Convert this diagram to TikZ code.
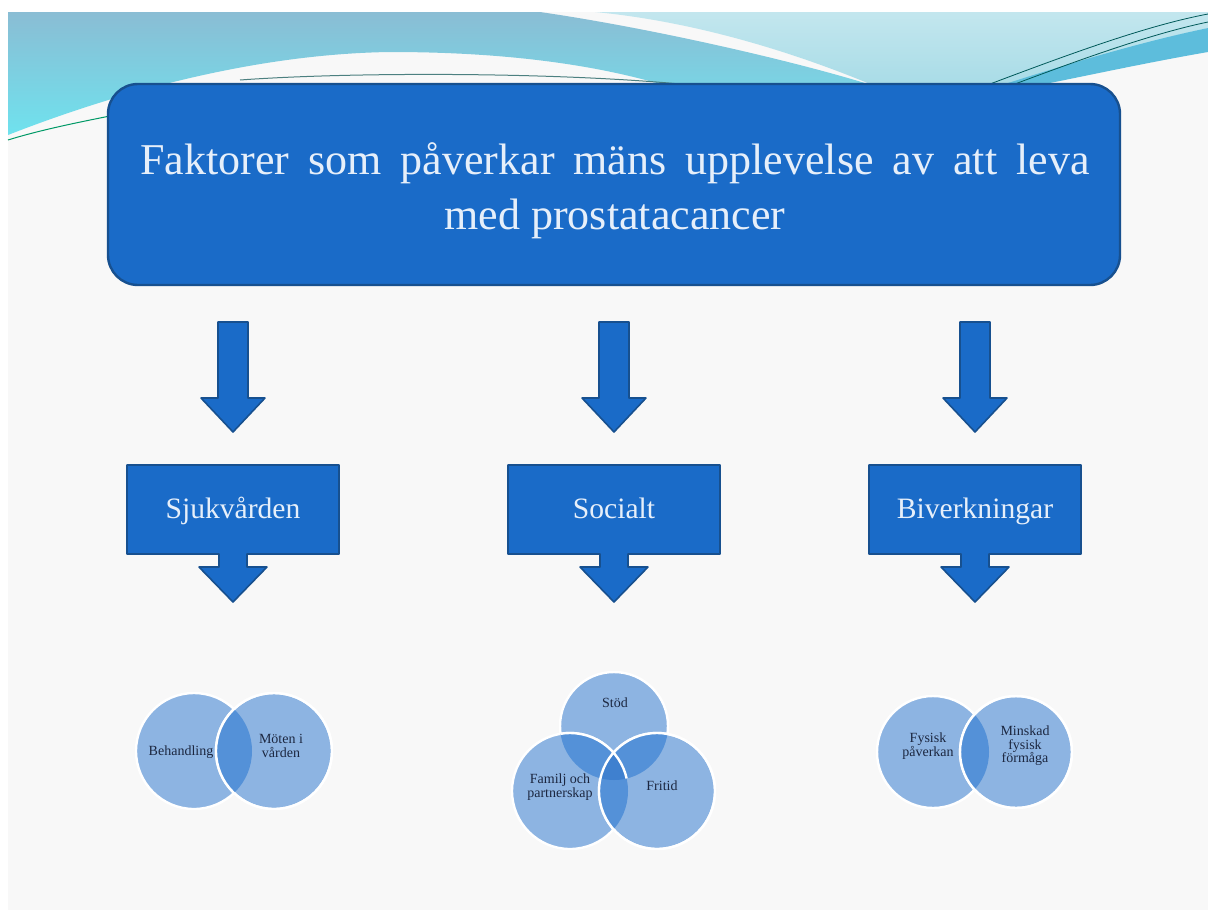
\documentclass[tikz,border=0pt]{standalone}
\usepackage{fontspec}
\setmainfont{Liberation Serif}
\usetikzlibrary{positioning}

\definecolor{boxblue}{HTML}{1A6BC8}
\definecolor{boxline}{HTML}{17508F}
\definecolor{vennlight}{HTML}{8DB4E2}
\definecolor{venndark}{HTML}{5491D8}
\definecolor{venndeep}{HTML}{3F80CF}
\definecolor{venntext}{HTML}{1C2740}
\definecolor{slidebg}{HTML}{F8F8F8}
\definecolor{wavedark}{HTML}{8ABDD4}
\definecolor{wavecyan}{HTML}{6FE2EE}
\definecolor{wavelight}{HTML}{A9DCE7}
\definecolor{wavestreak}{HTML}{5DBDDC}
\definecolor{labeltext}{HTML}{E6EFFA}

\tikzset{
    blockarrow/.style = {fill = boxblue, draw = boxline, line width = 0.8pt, line join = round},
    venncircle/.style = {fill = vennlight, draw = white, line width = 1.2pt},
    vennlabel/.style = {text = venntext, align = center, inner sep = 0pt,
        font = \fontsize{7}{6.8}\selectfont},
    categorylabel/.style = {text = labeltext, anchor = base, font = \fontsize{14.8}{17}\selectfont},
}

\begin{document}
\begin{tikzpicture}[x = 0.5pt, y = -0.5pt]
    \useasboundingbox (0,0) rectangle (1208,910);

    % Draw the slide background:
    \fill [white] (0,0) rectangle (1208,910);
    \fill [slidebg] (8,12) rectangle (1208,910);

    % Draw the waves at the top:
    \shade [top color = wavedark, bottom color = wavecyan]
        (8,12) -- (540,12) .. controls (650,28) and (790,60) .. (868,84) -- (660,84)
        .. controls (570,58) and (470,52) .. (390,52)
        .. controls (250,54) and (110,95) .. (8,135) -- cycle;
    \shade [top color = wavelight!70!white, bottom color = wavelight]
        (595,12) -- (1208,12) -- (1208,28) .. controls (1130,45) and (1060,70) .. (1005,84)
        -- (870,84) .. controls (800,55) and (700,22) .. (595,12) -- cycle;
    \fill [wavestreak] (1005,84) .. controls (1080,60) and (1150,40) .. (1208,28)
        -- (1208,52) .. controls (1150,62) and (1090,75) .. (1045,84) -- cycle;
    \draw [teal!70!black, line width = 0.4pt]
        (990,84) .. controls (1080,50) and (1150,25) .. (1208,14)
        (1015,84) .. controls (1100,52) and (1160,32) .. (1208,22);
    \draw [teal!80!green, line width = 0.5pt] (8,140) .. controls (40,130) and (80,122) .. (110,116);
    \draw [gray!60!teal, line width = 0.5pt] (240,80) .. controls (350,72) and (550,72) .. (680,84);

    % Draw the title box:
    \draw [fill = boxblue, draw = boxline, line width = 1.2pt, rounded corners = 15pt]
        (108,84) rectangle (1120,285);
    \node [text = labeltext, align = center, font = \fontsize{22}{27.5}\selectfont] (title) at (615,191)
        {\spaceskip=9.5pt Faktorer som påverkar mäns upplevelse av att leva\\
         med prostatacancer};

    % Draw the arrows and the category boxes:
    \foreach \cx/\cname/\ctext in {233/sjuk/Sjukvården, 614/soc/Socialt, 975/biv/Biverkningar} {
        \draw [blockarrow] (\cx-15,322) -- (\cx+15,322) -- (\cx+15,398) -- (\cx+32,398)
            -- (\cx,432) -- (\cx-32,398) -- (\cx-15,398) -- cycle;
        \draw [blockarrow] (\cx-106,465) -- (\cx+106,465) -- (\cx+106,554) -- (\cx+14,554)
            -- (\cx+14,567) -- (\cx+34,567) -- (\cx,602) -- (\cx-34,567) -- (\cx-14,567)
            -- (\cx-14,554) -- (\cx-106,554) -- cycle;
        \node [categorylabel] (\cname) at (\cx,518) {\ctext};
    }

    % Draw the first Venn diagram:
    \filldraw [venncircle] (194,751) circle (58);
    \filldraw [venncircle] (274,751) circle (58);
    \begin{scope}
        \clip (194,751) circle (58);
        \fill [venndark] (274,751) circle (58);
    \end{scope}
    \draw [white, line width = 1.2pt] (274,751) circle (58);
    \node [vennlabel] (behandling) at (181,752) {Behandling};
    \node [vennlabel] (moten) at (281,746) {Möten i\\vården};

    % Draw the second Venn diagram:
    \filldraw [venncircle] (614,726) circle (54);
    \filldraw [venncircle] (570,791) circle (58);
    \filldraw [venncircle] (657,791) circle (58);
    \begin{scope}
        \clip (614,726) circle (54);
        \fill [venndark] (570,791) circle (58);
        \fill [venndark] (657,791) circle (58);
    \end{scope}
    \begin{scope}
        \clip (570,791) circle (58);
        \fill [venndark] (657,791) circle (58);
    \end{scope}
    \begin{scope}
        \clip (614,726) circle (54);
        \clip (570,791) circle (58);
        \fill [venndeep] (657,791) circle (58);
    \end{scope}
    \begin{scope}
        \clip (614,726) circle (54);
        \draw [white, line width = 1.2pt] (570,791) circle (58);
    \end{scope}
    \draw [white, line width = 1.2pt] (657,791) circle (58);
    \node [vennlabel] (stod) at (615,703) {Stöd};
    \node [vennlabel] (familj) at (560,787) {Familj och\\partnerskap};
    \node [vennlabel] (fritid) at (662,786) {Fritid};

    % Draw the third Venn diagram:
    \filldraw [venncircle] (933,752) circle (56);
    \filldraw [venncircle] (1016,752) circle (56);
    \begin{scope}
        \clip (933,752) circle (56);
        \fill [venndark] (1016,752) circle (56);
    \end{scope}
    \draw [white, line width = 1.2pt] (1016,752) circle (56);
    \node [vennlabel] (fysisk) at (928,746) {Fysisk\\påverkan};
    \node [vennlabel] (minskad) at (1025,746) {Minskad\\fysisk\\förmåga};
\end{tikzpicture}
\end{document}
